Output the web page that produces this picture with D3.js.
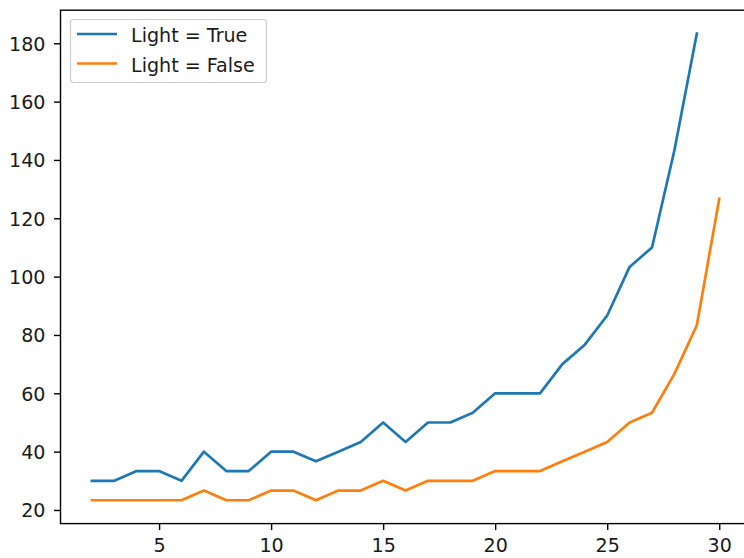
<!DOCTYPE html>
<html><head><meta charset="utf-8">
<script src="https://cdn.jsdelivr.net/npm/d3@7"></script>
<style>body{margin:0;background:#fff}svg{display:block}text{font-family:"DejaVu Sans",sans-serif}</style>
</head><body><svg id="c" width="744" height="558"></svg>
<script>
const xTrue = [2,3,4,5,6,7,8,9,10,11,12,13,14,15,16,17,18,19,20,21,22,23,24,25,26,27,28,29];
const yTrue = [30,30,33.33,33.33,30,40,33.33,33.33,40,40,36.67,40,43.33,50,43.33,50,50,53.33,60,60,60,70,76.67,86.67,103.33,110,143.33,183.33];
const xFalse = [2,3,4,5,6,7,8,9,10,11,12,13,14,15,16,17,18,19,20,21,22,23,24,25,26,27,28,29,30];
const yFalse = [23.33,23.33,23.33,23.33,23.33,26.67,23.33,23.33,26.67,26.67,23.33,26.67,26.67,30,26.67,30,30,30,33.33,33.33,33.33,36.67,40,43.33,50,53.33,66.67,83.33,126.67];
const xTicks = [5,10,15,20,25,30];
const yTicks = [20,40,60,80,100,120,140,160,180];
const labels = ["Light = True","Light = False"];
const colors = ["#1f77b4","#ff7f0e"];

const svg = d3.select("#c");
const L=60.5, R=750.6, T=10.2, B=523.6;
const FS = "19.1px";
const x = d3.scaleLinear().domain([0.6,31.4]).range([L,R]);
const y = d3.scaleLinear().domain([15.333,191.333]).range([B,T]);

const series = [
  xTrue.map((v,i)=>[v,yTrue[i]]),
  xFalse.map((v,i)=>[v,yFalse[i]])
];
const line = d3.line().x(d=>x(d[0])).y(d=>y(d[1]));
series.forEach((s,i)=>{
  svg.append("path").datum(s).attr("d",line).attr("fill","none")
    .attr("stroke",colors[i]).attr("stroke-width",2.7).attr("stroke-linejoin","round").attr("stroke-linecap","square");
});

const xa = svg.append("g").attr("transform",`translate(0,${B})`)
  .call(d3.axisBottom(x).tickValues(xTicks).tickSize(6.5).tickFormat(d3.format("d")));
const ya = svg.append("g").attr("transform",`translate(${L},0)`)
  .call(d3.axisLeft(y).tickValues(yTicks).tickSize(6.5).tickFormat(d3.format("d")));
[xa,ya].forEach(a=>{
  a.select(".domain").remove();
  a.selectAll("line").attr("stroke","#000").attr("stroke-width",1.4);
  a.selectAll("text").attr("font-size",FS).attr("fill","#1a1a1a").attr("font-family","DejaVu Sans");
});
xa.selectAll("text").attr("y",28.6).attr("dy","0");
ya.selectAll("text").attr("x",-15).attr("dy","0.36em");
// spines
svg.append("rect").attr("x",L).attr("y",T).attr("width",R-L).attr("height",B-T)
  .attr("fill","none").attr("stroke","#000").attr("stroke-width",1.4);

// legend
const lg = svg.append("g");
lg.append("rect").attr("x",70.5).attr("y",19.5).attr("width",196).attr("height",63).attr("rx",3)
  .attr("fill","#fff").attr("fill-opacity",0.8).attr("stroke","#cccccc").attr("stroke-width",1.2);
labels.forEach((t,i)=>{
  const cy = 34 + i*29.5;
  lg.append("line").attr("x1",77).attr("x2",117).attr("y1",cy).attr("y2",cy)
    .attr("stroke",colors[i]).attr("stroke-width",2.7);
  lg.append("text").attr("x",131).attr("y",41.7 + i*30).attr("font-size",FS).attr("fill","#1a1a1a").text(t);
});
</script></body></html>
